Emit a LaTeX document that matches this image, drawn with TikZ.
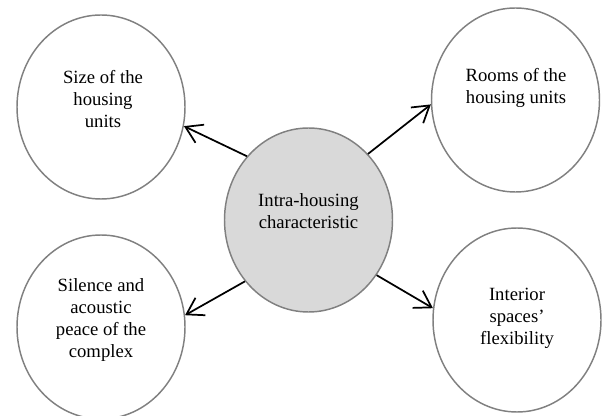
\documentclass[tikz,border=0pt]{standalone}
\usepackage{fontspec}
\setmainfont{Liberation Serif}
\usetikzlibrary{shapes.geometric,arrows.meta}
\tikzset{
  blob/.style={ellipse, draw=gray, line width=1.1pt, minimum width=126pt, minimum height=138pt, inner sep=0pt},
  hub/.style={blob, fill=gray!30},
  txt/.style={align=center, font=\fontsize{14}{16.5}\selectfont},
  link/.style={->, >={Straight Barb[length=12pt,width=15pt]}, line width=1.3pt}
}
\begin{document}
\begin{tikzpicture}[x=0.75pt,y=-0.75pt]
 \useasboundingbox (0,0) rectangle (606,416);

 % outer ellipses
 \foreach \n/\x/\y in {size/101/107, rooms/515.5/100, silence/101/327, flex/517/320}
   \node[blob] (\n) at (\x,\y) {};
 \node[hub] (hub) at (308.5,220) {};

 % texts
 \node[txt] (size-t) at (103,99) {Size of the\\housing\\units};
 \node[txt] (rooms-t) at (516,88) {Rooms of the\\housing units};
 \node[txt] (silence-t) at (101,320) {Silence and\\acoustic\\peace of the\\complex};
 \node[txt] (flex-t) at (517,318) {Interior\\spaces’\\flexibility};
 \node[txt] (hub-t) at (308.5,211) {Intra-housing\\characteristic};

 % arrows
 \foreach \a/\dest/\b in {134/size/-13, 48/rooms/183, 224/silence/8, -39/flex/172}
   \draw[link] (hub.\a) -- (\dest.\b);
\end{tikzpicture}
\end{document}
